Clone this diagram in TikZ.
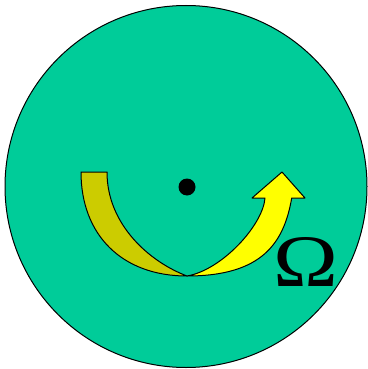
\documentclass[tikz,border=0pt]{standalone}
\usepackage{fontspec}
\setmainfont{Liberation Serif}
\definecolor{discgreen}{HTML}{00CC99}
\definecolor{backyellow}{HTML}{CCCC00}
\definecolor{frontyellow}{HTML}{FFFF00}
\begin{document}
\begin{tikzpicture}[
    x=1pt, y=-1pt,
    line join=round, line cap=round,
    disc/.style={fill=discgreen,draw=black,line width=1pt},
    ribbonback/.style={fill=backyellow,draw=black,line width=1pt},
    ribbonfront/.style={fill=frontyellow,draw=black,line width=1pt},
    pivot/.style={circle,fill=black,inner sep=0pt,minimum size=17pt}
]
    \useasboundingbox (0,0) rectangle (367,369);

    % The disc and its centre of rotation.
    \coordinate (C) at (186,186.5);
    \draw[disc] (C) circle (181);
    \node[pivot] (O) at (187,187) {};

    % Both halves of the bent arrow meet at the bottom point (B).
    \coordinate (Lo) at (81,172);
    \coordinate (Li) at (107,172);
    \coordinate (B) at (187,276);
    \coordinate (Ro) at (291.7,198);
    \coordinate (Ri) at (265,198);

    % Rear half, seen from behind, a darker yellow.
    \path[ribbonback] (Lo) .. controls (81,235) and (122,276) .. (B)
        .. controls (150,262) and (107,225) .. (Li) -- cycle;

    % Front half with the arrow head.
    \path[ribbonfront] (B) .. controls (262,276) and (284,243) .. (Ro)
        -- (305,198) -- (282,172) -- (252,198) -- (Ri)
        .. controls (263,225) and (222,270) .. (B) -- cycle;

    \node[font=\fontsize{74}{74}\selectfont,inner sep=0pt,xscale=1.18]
        (omega) at (305.5,261.5) {Ω};
\end{tikzpicture}
\end{document}
